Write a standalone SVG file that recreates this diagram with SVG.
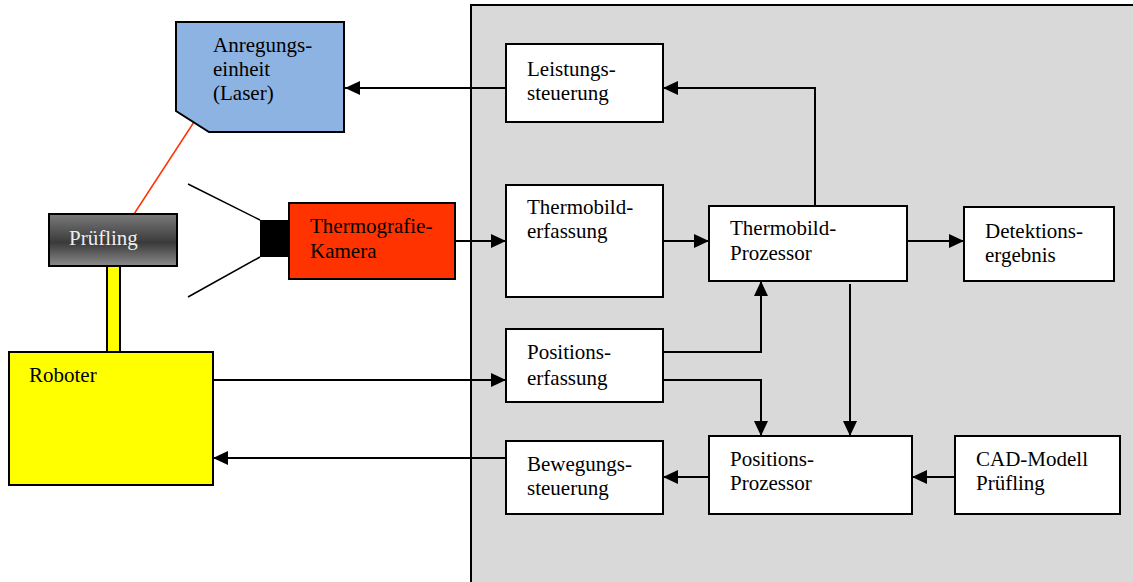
<svg xmlns="http://www.w3.org/2000/svg" width="1133" height="582" viewBox="0 0 1133 582">
<style>
text{font-family:"Liberation Serif","Times New Roman",serif;font-size:21px;fill:#000}
.box{fill:#fff;stroke:#000;stroke-width:2}
.c{fill:none;stroke:#000;stroke-width:2}
</style>
<defs>
<marker id="ah" markerWidth="16" markerHeight="14" refX="15" refY="7" orient="auto" markerUnits="userSpaceOnUse">
<path d="M0,0 L15,7 L0,14 Z" fill="#000"/>
</marker>
<linearGradient id="gp" x1="0" y1="0" x2="0" y2="1">
<stop offset="0" stop-color="#7a7a7a"/>
<stop offset="0.55" stop-color="#3a3a3a"/>
<stop offset="1" stop-color="#8c8c8c"/>
</linearGradient>
</defs>
<rect width="1133" height="582" fill="#fff"/>
<g id="panel"><rect x="471" y="5" width="670" height="590" fill="#d9d9d9" stroke="#000" stroke-width="2"/></g>

<g id="connectors">
<line class="c" x1="506" y1="88" x2="345" y2="88" marker-end="url(#ah)"/>
<polyline class="c" points="815,206 815,88 663,88" marker-end="url(#ah)"/>
<line class="c" x1="455" y1="241" x2="506" y2="241" marker-end="url(#ah)"/>
<line class="c" x1="663" y1="241" x2="709" y2="241" marker-end="url(#ah)"/>
<line class="c" x1="907" y1="241" x2="964" y2="241" marker-end="url(#ah)"/>
<polyline class="c" points="663,352 761,352 761,281" marker-end="url(#ah)"/>
<polyline class="c" points="663,380 761,380 761,436" marker-end="url(#ah)"/>
<line class="c" x1="850" y1="284" x2="850" y2="436" marker-end="url(#ah)"/>
<line class="c" x1="709" y1="477" x2="663" y2="477" marker-end="url(#ah)"/>
<line class="c" x1="955" y1="477" x2="912" y2="477" marker-end="url(#ah)"/>
<line class="c" x1="506" y1="458" x2="213" y2="458" marker-end="url(#ah)"/>
<line class="c" x1="213" y1="380" x2="506" y2="380" marker-end="url(#ah)"/>
<line x1="194" y1="122" x2="134" y2="214" stroke="#ff3300" stroke-width="1.5"/>
<line x1="188" y1="184" x2="260" y2="220" stroke="#000" stroke-width="1.5"/>
<line x1="260" y1="257" x2="188" y2="297" stroke="#000" stroke-width="1.5"/>
</g>

<g id="anregungseinheit">
<polygon points="176,22 344,22 344,132 209,132 176,111" fill="#8db3e2" stroke="#000" stroke-width="2"/>
<text x="213" y="52">Anregungs-</text>
<text x="213" y="76">einheit</text>
<text x="213" y="100">(Laser)</text>
</g>

<g id="kamera">
<rect x="260" y="220" width="29" height="37" fill="#000"/>
<rect x="289" y="203" width="166" height="76" fill="#ff3300" stroke="#000" stroke-width="2"/>
<text x="310" y="233">Thermografie-</text>
<text x="310" y="258">Kamera</text>
</g>

<g id="pruefling">
<rect x="49" y="214" width="128" height="52" fill="url(#gp)" stroke="#000" stroke-width="2"/>
<text x="69" y="245" style="fill:#eee">Prüfling</text>
</g>

<g id="halter"><rect x="107" y="266" width="13" height="86" fill="#ffff00" stroke="#000" stroke-width="2"/></g>

<g id="roboter">
<rect x="9" y="352" width="204" height="133" fill="#ffff00" stroke="#000" stroke-width="2"/>
<text x="29" y="382">Roboter</text>
</g>

<g id="leistungssteuerung">
<rect class="box" x="506" y="44" width="157" height="78"/>
<text x="527" y="76">Leistungs-</text>
<text x="527" y="100">steuerung</text>
</g>

<g id="thermobilderfassung">
<rect class="box" x="506" y="185" width="157" height="112"/>
<text x="527" y="214">Thermobild-</text>
<text x="527" y="238">erfassung</text>
</g>

<g id="thermobildprozessor">
<rect class="box" x="709" y="206" width="198" height="75"/>
<text x="730" y="235">Thermobild-</text>
<text x="730" y="260">Prozessor</text>
</g>

<g id="detektionsergebnis">
<rect class="box" x="964" y="207" width="150" height="74"/>
<text x="985" y="238">Detektions-</text>
<text x="985" y="262">ergebnis</text>
</g>

<g id="positionserfassung">
<rect class="box" x="506" y="329" width="157" height="73"/>
<text x="527" y="359">Positions-</text>
<text x="527" y="385">erfassung</text>
</g>

<g id="bewegungssteuerung">
<rect class="box" x="506" y="441" width="157" height="73"/>
<text x="527" y="471">Bewegungs-</text>
<text x="527" y="495">steuerung</text>
</g>

<g id="positionsprozessor">
<rect class="box" x="709" y="436" width="203" height="78"/>
<text x="730" y="466">Positions-</text>
<text x="730" y="490">Prozessor</text>
</g>

<g id="cadmodell">
<rect class="box" x="955" y="436" width="165" height="78"/>
<text x="976" y="466">CAD-Modell</text>
<text x="976" y="490">Prüfling</text>
</g>
</svg>
